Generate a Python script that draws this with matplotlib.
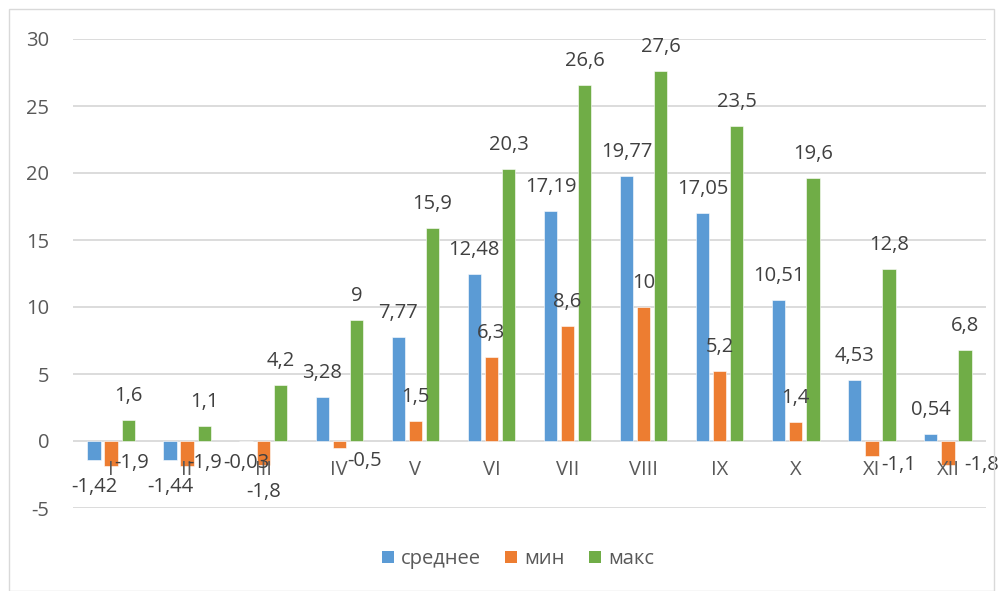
import matplotlib
matplotlib.use("Agg")
import matplotlib.pyplot as plt
from matplotlib.patches import Patch, Rectangle

# Monthly air temperature: mean, minimum and maximum
months = ["I", "II", "III", "IV", "V", "VI", "VII", "VIII", "IX", "X", "XI", "XII"]
mean_vals = [-1.42, -1.44, -0.03, 3.28, 7.77, 12.48, 17.19, 19.77, 17.05, 10.51, 4.53, 0.54]
min_vals = [-1.9, -1.9, -1.8, -0.5, 1.5, 6.3, 8.6, 10, 5.2, 1.4, -1.1, -1.8]
max_vals = [1.6, 1.1, 4.2, 9, 15.9, 20.3, 26.6, 27.6, 23.5, 19.6, 12.8, 6.8]
series_names = ["среднее", "мин", "макс"]

colors = ["#5B9BD5", "#ED7D31", "#70AD47"]
grid_color = "#D9D9D9"
label_color = "#404040"
axis_text_color = "#595959"
FONT = ["Open Sans", "DejaVu Sans"]
FS = 14.5

plt.rcParams["font.family"] = FONT
plt.rcParams["axes.unicode_minus"] = False

W, H = 1003, 591
fig = plt.figure(figsize=(W / 100, H / 100), dpi=100)
fig.patch.set_facecolor("white")

# chart frame
fig.patches.append(Rectangle((9 / W, 0), (994 - 9) / W, (H - 9) / H,
                             transform=fig.transFigure, fill=False,
                             edgecolor="#D9D9D9", linewidth=1.0))

ax = fig.add_axes([73 / W, (H - 508) / H, (986 - 73) / W, (508 - 39) / H])
ax.set_xlim(-0.5, len(months) - 0.5)
ax.set_ylim(-5, 30)
ax.set_yticks(range(-5, 31, 5))
ax.yaxis.grid(True, color=grid_color, linewidth=1.3)
ax.set_axisbelow(True)
for s in ax.spines.values():
    s.set_visible(False)
ax.tick_params(axis="y", length=0, pad=17, labelsize=FS, labelcolor=axis_text_color)
ax.set_xticks([])

width = 0.175
offsets = [-0.225, 0.0, 0.225]
all_series = [mean_vals, min_vals, max_vals]

# nudges (pixels) for labels that sit beside their bars
nudges = {
    (1, 0): (21, 3),
    (1, 1): (18, 3),
    (0, 2): (0, -22),
    (1, 3): (25, -13),
    (1, 10): (27, -9),
    (1, 11): (34, 0),
}

for si, (vals, off, col) in enumerate(zip(all_series, offsets, colors)):
    xs = [i + off for i in range(len(months))]
    ax.bar(xs, vals, width=width, color=col, edgecolor="white", linewidth=0.4,
           zorder=3)

# month labels next to the zero line
for i, m in enumerate(months):
    ax.annotate(m, (i, 0), xytext=(0, -29), textcoords="offset pixels",
                ha="center", va="center", fontsize=FS, color=axis_text_color,
                zorder=4)

# value labels
for si, (vals, off) in enumerate(zip(all_series, offsets)):
    for i, v in enumerate(vals):
        txt = f"{v:g}".replace(".", ",")
        dx, dy = (0, 24) if v >= 0 else (0, -27)
        if (si, i) in nudges:
            dx, dy = nudges[(si, i)]
        ax.annotate(txt, (i + off, v), xytext=(dx, dy), textcoords="offset pixels",
                    ha="center", va="center", fontsize=FS, color=label_color,
                    zorder=5)

handles = [Patch(facecolor=c, edgecolor="none") for c in colors]
fig.legend(handles, series_names, loc="center", bbox_to_anchor=(518 / W, 1 - 559 / H),
           ncol=3, frameon=False, fontsize=FS, handlelength=0.6, handleheight=0.6,
           handletextpad=0.35, columnspacing=1.2, labelcolor=axis_text_color)

fig.savefig("out.png", dpi=100, facecolor="white")
